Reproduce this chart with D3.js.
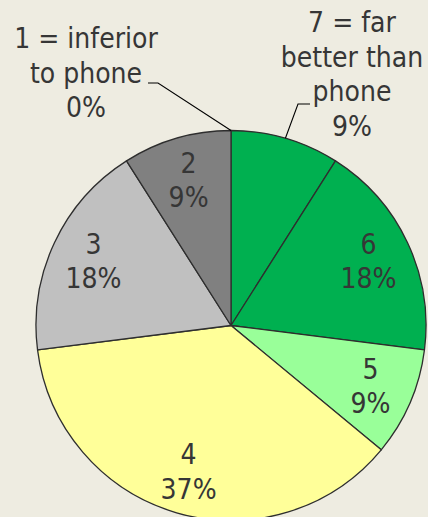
<!DOCTYPE html>
<html>
<head>
<meta charset="utf-8">
<script src="https://cdn.jsdelivr.net/npm/d3@7"></script>
<style>
  html, body { margin: 0; padding: 0; background: #EEECE1; }
  svg { display: block; }
  text { font-family: "DejaVu Sans Condensed", "DejaVu Sans", sans-serif; fill: #363636; }
</style>
</head>
<body>
<svg id="chart" width="428" height="517"></svg>
<script>
// Ratings, drawn clockwise from 12 o'clock: 7 first, down to 1.
const ratings = ["7", "6", "5", "4", "3", "2", "1"];
const shares = [9, 18, 9, 37, 18, 9, 0];          // percent of answers
const colors = ["#00B050", "#00B050", "#99FF99", "#FFFF99", "#C0C0C0", "#808080", "#6E6E6E"];
const labelLines = [
  ["7 = far", "better than", "phone"],
  ["6"], ["5"], ["4"], ["3"], ["2"],
  ["1 = inferior", "to phone"]
];
const outsideLabels = ["7", "1"];

const W = 428, H = 517;
const cx = 231, cy = 325.5, R = 195;
const lineH = 34.5;
const fontSize = 28;

const svg = d3.select("#chart");
const g = svg.append("g").attr("transform", `translate(${cx},${cy})`);

const data = ratings.map((r, i) => ({ rating: r, share: shares[i], color: colors[i], lines: labelLines[i] }));

const pie = d3.pie().sort(null).value(d => d.share);
const arcs = pie(data);
const arc = d3.arc().innerRadius(0).outerRadius(R);
const labelArc = d3.arc().innerRadius(152).outerRadius(152);
const fmt = v => d3.format(".0f")(v) + "%";

g.selectAll("path.slice")
  .data(arcs.filter(a => a.data.share > 0))
  .join("path")
  .attr("class", "slice")
  .attr("d", arc)
  .attr("fill", d => d.data.color)
  .attr("stroke", "#2E2E2E")
  .attr("stroke-width", 1.3)
  .attr("stroke-linejoin", "round");

// Labels inside the slices: rating on the first line, share below.
const inside = arcs.filter(a => !outsideLabels.includes(a.data.rating));
const ig = g.selectAll("g.inlabel").data(inside).join("g")
  .attr("class", "inlabel")
  .attr("transform", d => {
    const [x, y] = labelArc.centroid(d);
    return `translate(${x},${y})`;
  });
ig.append("text")
  .attr("text-anchor", "middle")
  .attr("font-size", fontSize)
  .attr("y", -7)
  .text(d => d.data.lines[0]);
ig.append("text")
  .attr("text-anchor", "middle")
  .attr("font-size", fontSize)
  .attr("y", -7 + lineH)
  .text(d => fmt(d.data.share));

// Labels set outside the pie, each with a leader line to its slice.
const outsidePlacement = {
  "7": { x: 352, firstBaseline: 32, elbow: [298, 104], end: [310, 104] },
  "1": { x: 86, firstBaseline: 48, elbow: [158, 83], end: [148, 83] }
};

arcs.filter(a => outsideLabels.includes(a.data.rating)).forEach(a => {
  const p = outsidePlacement[a.data.rating];
  const mid = (a.startAngle + a.endAngle) / 2;
  const sx = cx + R * Math.sin(mid), sy = cy - R * Math.cos(mid);
  svg.append("polyline")
    .attr("points", [[sx, sy], p.elbow, p.end].map(q => q.join(",")).join(" "))
    .attr("fill", "none")
    .attr("stroke", "#000")
    .attr("stroke-width", 1.1);
  const lines = a.data.lines.concat([fmt(a.data.share)]);
  svg.append("g").selectAll("text").data(lines).join("text")
    .attr("x", p.x)
    .attr("y", (d, i) => p.firstBaseline + i * lineH)
    .attr("text-anchor", "middle")
    .attr("font-size", fontSize)
    .text(d => d);
});
</script>
</body>
</html>
